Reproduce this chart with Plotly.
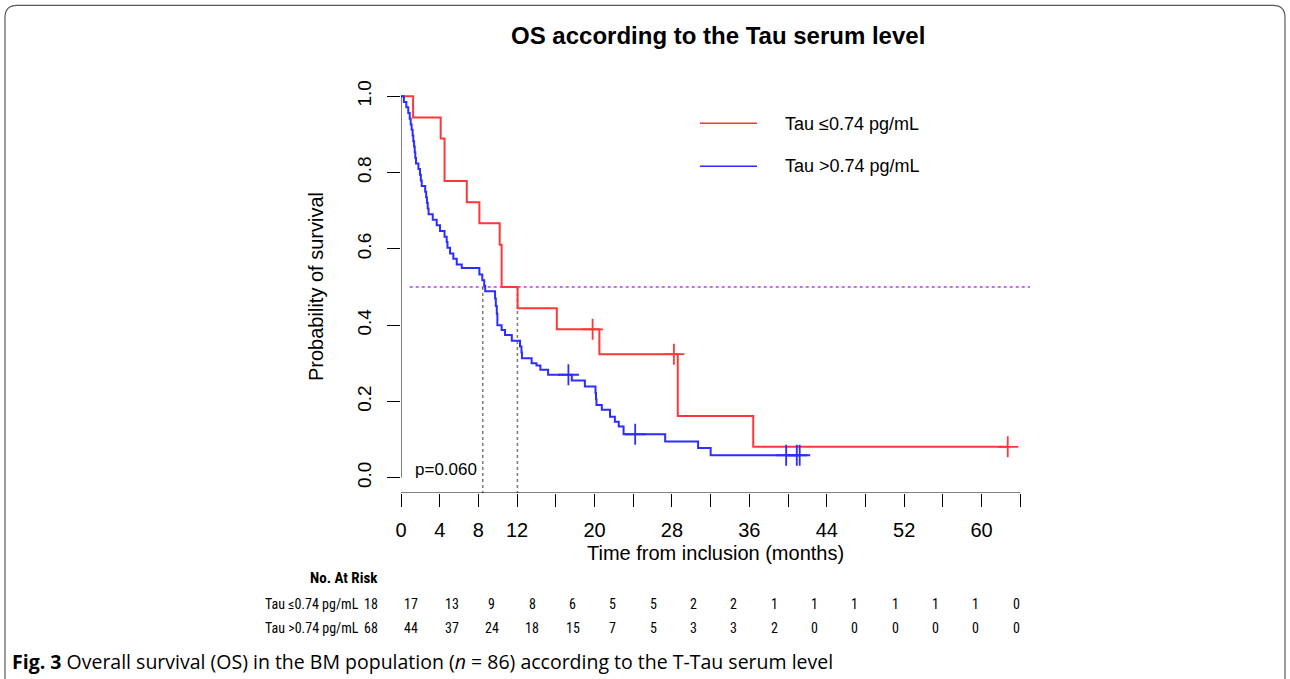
import plotly.graph_objects as go

# ---------------- data ----------------
red_name = "Tau ≤0.74 pg/mL"
blue_name = "Tau >0.74 pg/mL"

red_t = [0, 1.25, 4.1, 4.5, 6.8, 8.1, 10.2, 10.4, 12.05, 16.1, 20.5, 28.6, 36.4, 62.7]
red_s = [1.0, 0.944, 0.889, 0.778, 0.722, 0.667, 0.611, 0.5, 0.444, 0.389, 0.324, 0.162, 0.081, 0.081]
red_cens_t = [19.8, 28.2, 62.7]
red_cens_s = [0.389, 0.324, 0.081]

blue_t = [0, 0.3, 0.55, 0.75, 0.9, 1.0, 1.1, 1.2, 1.27, 1.35, 1.42, 1.48, 1.55, 1.8, 1.96, 2.05, 2.14,
          2.5, 2.6, 2.68, 2.76, 2.85, 3.28, 3.69, 4.03, 4.5, 4.72, 4.8, 5.07, 5.41, 5.76, 6.28,
          8.1, 8.4, 8.6, 8.7, 9.72, 9.8, 9.9, 9.96, 10.4, 10.75, 11.45, 12.3, 12.45, 12.5, 13.5,
          14.0, 14.4, 15.2, 17.65, 19.0, 20.1, 20.15, 20.2, 20.75, 21.6, 22.1, 22.5, 23.0, 27.3,
          30.7, 32.0, 41.2]
blue_s = [1.0, 0.985, 0.971, 0.956, 0.941, 0.926, 0.912, 0.897, 0.882, 0.868, 0.853, 0.838, 0.824,
          0.809, 0.794, 0.779, 0.765, 0.750, 0.735, 0.721, 0.706, 0.691, 0.676, 0.662, 0.647, 0.632,
          0.618, 0.603, 0.588, 0.574, 0.559, 0.55, 0.533, 0.518, 0.503, 0.489, 0.47, 0.45, 0.43,
          0.40, 0.387, 0.374, 0.359, 0.344, 0.328, 0.313, 0.30, 0.294, 0.283, 0.27, 0.255, 0.239,
          0.222, 0.206, 0.191, 0.178, 0.16, 0.147, 0.134, 0.114, 0.095, 0.078, 0.059, 0.059]
blue_cens_t = [17.3, 24.2, 39.8, 40.9, 41.2]
blue_cens_s = [0.27, 0.114, 0.059, 0.059, 0.059]

median_red = 12.03
median_blue = 8.45
p_value = "p=0.060"

tick_vals = list(range(0, 65, 4))
tick_text = ["0", "4", "8", "12", "", "20", "", "28", "", "36", "", "44", "", "52", "", "60", ""]
y_vals = [0, 0.2, 0.4, 0.6, 0.8, 1.0]
y_text = ["0.0", "0.2", "0.4", "0.6", "0.8", "1.0"]

risk_red = [18, 17, 13, 9, 8, 6, 5, 5, 2, 2, 1, 1, 1, 1, 1, 1, 0]
risk_blue = [68, 44, 37, 24, 18, 15, 7, 5, 3, 3, 2, 0, 0, 0, 0, 0, 0]

title = "OS according to the Tau serum level"
caption = ("<b>Fig. 3</b> Overall survival (OS) in the BM population (<i>n</i> = 86) "
           "according to the T-Tau serum level")

# ---------------- layout geometry ----------------
W, H = 1290, 679
L, R, T, B = 401, 260, 80.7, 185.7
PW, PH = W - L - R, H - T - B
def xp(px):
    return (px - L) / PW
def yp(py):
    return (H - B - py) / PH

RED = "rgb(255,55,55)"
BLUE = "rgb(45,45,255)"
FONT = "Liberation Sans, Arial, sans-serif"

fig = go.Figure()
fig.add_trace(go.Scatter(x=red_t, y=red_s, mode="lines", line=dict(color=RED, width=2, shape="hv"),
                         name=red_name, showlegend=False))
fig.add_trace(go.Scatter(x=blue_t, y=blue_s, mode="lines", line=dict(color=BLUE, width=2, shape="hv"),
                         name=blue_name, showlegend=False))
fig.add_trace(go.Scatter(x=red_cens_t, y=red_cens_s, mode="markers",
                         marker=dict(symbol="cross-thin", size=15, line=dict(color=RED, width=1.8)),
                         showlegend=False))
fig.add_trace(go.Scatter(x=blue_cens_t, y=blue_cens_s, mode="markers",
                         marker=dict(symbol="cross-thin", size=15, line=dict(color=BLUE, width=1.8)),
                         showlegend=False))

shapes = []
# median lines
shapes.append(dict(type="line", xref="x", yref="y", x0=0.9, x1=65, y0=0.5, y1=0.5,
                   line=dict(color="rgb(200,110,240)", width=2, dash="dot"), layer="below"))
for m in (median_blue, median_red):
    shapes.append(dict(type="line", xref="x", yref="y", x0=m, x1=m, y0=0.5, y1=-0.04,
                       line=dict(color="rgb(120,120,120)", width=1.5, dash="dot"), layer="below"))
# axis lines (R style)
shapes.append(dict(type="line", xref="x", yref="y", x0=0, x1=0, y0=0, y1=1,
                   line=dict(color="black", width=1)))
shapes.append(dict(type="line", xref="x", yref="y", x0=0, x1=64, y0=-0.04, y1=-0.04,
                   line=dict(color="black", width=1)))
# legend lines
for yy, col in ((123, RED), (166, BLUE)):
    shapes.append(dict(type="line", xref="paper", yref="paper", x0=xp(700), x1=xp(757),
                       y0=yp(yy), y1=yp(yy), line=dict(color=col, width=1.5)))
# rounded border
x0, x1, y0, y1, r = 5, 1285, 5, 700, 12
path = (f"M {xp(x0 + r)},{yp(y0)} L {xp(x1 - r)},{yp(y0)} Q {xp(x1)},{yp(y0)} {xp(x1)},{yp(y0 + r)} "
        f"L {xp(x1)},{yp(y1 - r)} Q {xp(x1)},{yp(y1)} {xp(x1 - r)},{yp(y1)} "
        f"L {xp(x0 + r)},{yp(y1)} Q {xp(x0)},{yp(y1)} {xp(x0)},{yp(y1 - r)} "
        f"L {xp(x0)},{yp(y0 + r)} Q {xp(x0)},{yp(y0)} {xp(x0 + r)},{yp(y0)} Z")
shapes.append(dict(type="path", xref="paper", yref="paper", path=path,
                   line=dict(color="rgb(90,90,90)", width=1.2)))

ann = []
def text(px, py, s, size, anchor="center", bold=False, angle=0, family=FONT, color="black"):
    ann.append(dict(x=xp(px), y=yp(py), xref="paper", yref="paper", text=(f"<b>{s}</b>" if bold else s),
                    showarrow=False, xanchor=anchor, yanchor="middle", textangle=angle,
                    font=dict(size=size, family=family, color=color)))

text(718, 35, title, 24, bold=True)
text(316, 287, "Probability of survival", 20, angle=-90)
text(715, 553, "Time from inclusion (months)", 20)
ann.append(dict(x=1.2, y=0.022, xref="x", yref="y", text=p_value, showarrow=False,
                xanchor="left", yanchor="middle", font=dict(size=17, family=FONT)))
text(783, 124, red_name, 18, anchor="left")
text(783, 166, blue_name, 18, anchor="left")

# risk table
TFONT = "Liberation Sans Narrow, Roboto Condensed, Liberation Sans, Arial"
text(344, 578, "No. At Risk", 15, bold=True, family=TFONT)
col0, col_end = 371, 1016
step = (col_end - col0) / (len(risk_red) - 1)
for row_y, name, vals in ((604, red_name, risk_red), (628, blue_name, risk_blue)):
    text(361, row_y, name, 14, anchor="right", family=TFONT)
    for i, v in enumerate(vals):
        text(col0 + i * step, row_y, str(v), 14, family=TFONT)

text(10, 662, caption, 19.5, anchor="left", family="Open Sans, Noto Sans, sans-serif")

fig.update_layout(
    width=W, height=H, margin=dict(l=L, r=R, t=T, b=B, autoexpand=False),
    paper_bgcolor="white", plot_bgcolor="white",
    shapes=shapes, annotations=ann, font=dict(family=FONT, color="black"),
    xaxis=dict(range=[0, 65], tickvals=tick_vals, ticktext=tick_text, ticks="outside", ticklen=13,
               tickcolor="black", showgrid=False, zeroline=False, showline=False,
               tickfont=dict(size=20, family=FONT), ticklabelstandoff=6),
    yaxis=dict(range=[-0.04, 1.04], tickvals=y_vals, ticktext=y_text, ticks="outside", ticklen=13,
               tickcolor="black", showgrid=False, zeroline=False, showline=False, tickangle=-90,
               tickfont=dict(size=19, family=FONT), ticklabelstandoff=8),
)
fig.write_html("out.html", config={"displayModeBar": False},
               post_script="document.body.style.margin='0px';document.body.style.overflow='hidden';")
